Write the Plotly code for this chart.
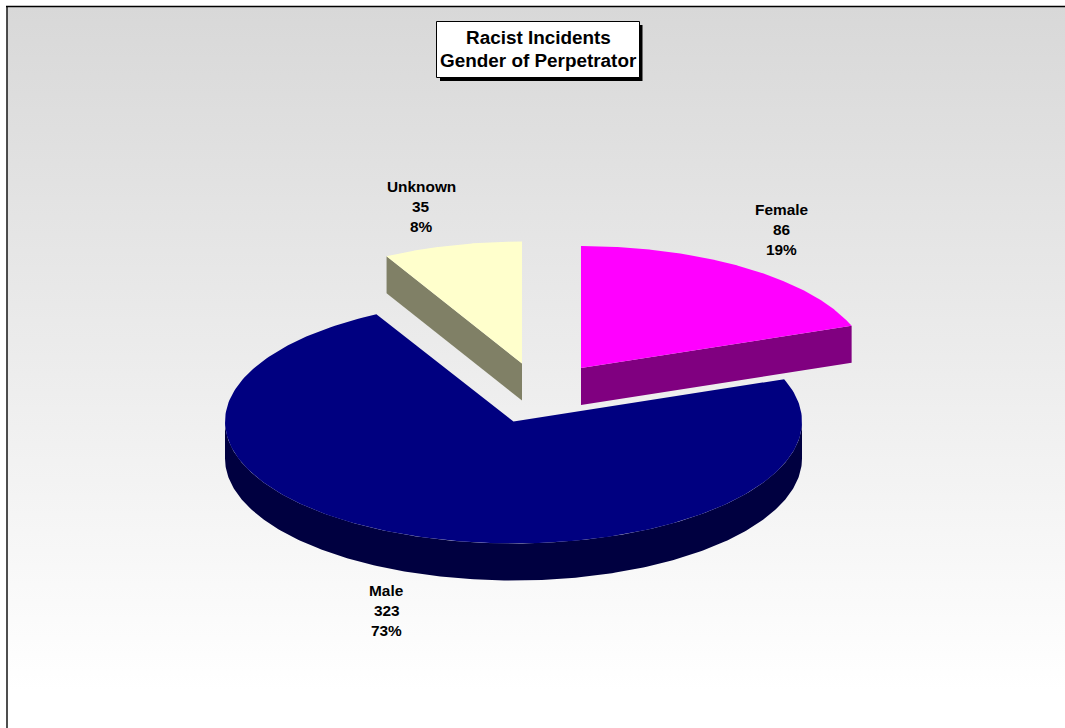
import numpy as np
import plotly.graph_objects as go

# ---- data ----
categories = ["Female", "Male", "Unknown"]
counts = [86, 323, 35]
slice_colors = ["#FF00FF", "#000080", "#FFFFCC"]
side_colors = ["#800080", "#000040", "#808066"]
title_lines = ["Racist Incidents", "Gender of Perpetrator"]

# ---- layout geometry (pixels) ----
W, H = 1065, 728
RY, DEPTH = 122.0, 37.0
radius_x = {"Female": 288.5, "Male": 288.5, "Unknown": 285.0}
apex = {"Female": (581, 368), "Male": (513.5, 421.5), "Unknown": (522, 363.5)}
label_pos = {"Female": (781.5, 209), "Male": (386.5, 590), "Unknown": (421, 186)}
LABEL_STEP = 20

total = sum(counts)
fractions = [c / total for c in counts]
starts = np.cumsum([0] + fractions[:-1]) * 2 * np.pi
ends = np.cumsum(fractions) * 2 * np.pi


def rim(name, t0, t1, n=240):
    cx, cy = apex[name]
    t = np.linspace(t0, t1, n)
    return cx + radius_x[name] * np.sin(t), cy - RY * np.cos(t)


fig = go.Figure()

# Panel with vertical gradient
fig.add_trace(go.Scatter(
    x=[7, W, W, 7, 7], y=[6, 6, H, H, 6], mode="lines", line=dict(width=0),
    fill="toself", hoverinfo="skip", showlegend=False,
    fillgradient=dict(type="vertical", start=6, stop=690,
                      colorscale=[[0, "#D8D8D8"], [1, "#FFFFFF"]]),
))


def add_poly(xs, ys, color):
    fig.add_trace(go.Scatter(
        x=xs, y=ys, mode="lines", line=dict(width=0), fill="toself",
        fillcolor=color, hoverinfo="skip", showlegend=False,
    ))


def add_slice(i):
    name = categories[i]
    cx, cy = apex[name]
    if name == "Male":
        ax, ay = rim(name, np.pi / 2, 3 * np.pi / 2)
        add_poly(np.r_[ax, ax[::-1]], np.r_[ay, ay[::-1] + DEPTH], side_colors[i])
    else:
        # exposed radial wall of the exploded slice
        t = ends[i] if name == "Female" else starts[i]
        ex, ey = rim(name, t, t, 1)
        add_poly([cx, ex[0], ex[0], cx, cx],
                 [cy, ey[0], ey[0] + DEPTH, cy + DEPTH, cy], side_colors[i])
    ax, ay = rim(name, starts[i], ends[i])
    add_poly(np.r_[cx, ax, cx], np.r_[cy, ay, cy], slice_colors[i])


for i in (2, 1, 0):
    add_slice(i)

shapes = [
    dict(type="line", x0=7, x1=7, y0=6, y1=H, line=dict(color="#222222", width=1.6)),
    dict(type="line", x0=6, x1=W, y0=6.5, y1=6.5, line=dict(color="#000000", width=1.6)),
    dict(type="rect", x0=440, x1=642.5, y0=25, y1=81, fillcolor="#000000", line=dict(width=0)),
    dict(type="rect", x0=436.5, x1=639.5, y0=21.5, y1=77.5, fillcolor="#FFFFFF",
         line=dict(color="#000000", width=1)),
]

annotations = []
for j, line in enumerate(title_lines):
    annotations.append(dict(x=538, y=37 + 23 * j, text=f"<b>{line}</b>", showarrow=False,
                            font=dict(family="Liberation Sans", size=18.9, color="#000000")))
for name, c, f in zip(categories, counts, fractions):
    lx, ly = label_pos[name]
    for j, line in enumerate([name, str(c), f"{f:.0%}"]):
        annotations.append(dict(x=lx, y=ly + LABEL_STEP * j, text=f"<b>{line}</b>", showarrow=False,
                                font=dict(family="Liberation Sans", size=15.4, color="#000000")))

fig.update_layout(
    width=W, height=H, margin=dict(l=0, r=0, t=0, b=0),
    paper_bgcolor="#FFFFFF", plot_bgcolor="rgba(0,0,0,0)", showlegend=False,
    xaxis=dict(range=[0, W], visible=False, fixedrange=True),
    yaxis=dict(range=[H, 0], visible=False, fixedrange=True),
    shapes=shapes, annotations=annotations,
)
fig.write_html("out.html", config={"displayModeBar": False},
               post_script="document.body.style.margin='0';document.documentElement.style.overflow='hidden';")
